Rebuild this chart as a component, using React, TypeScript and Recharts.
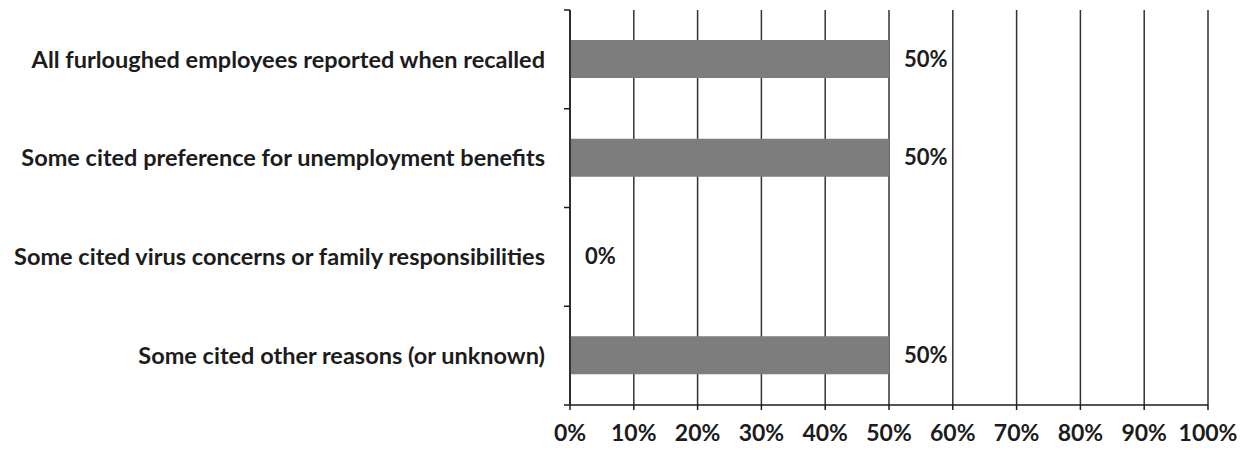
import { Bar, BarChart, CartesianGrid, LabelList, XAxis, YAxis } from "recharts";

const categories = [
  "All furloughed employees reported when recalled",
  "Some cited preference for unemployment benefits",
  "Some cited virus concerns or family responsibilities",
  "Some cited other reasons (or unknown)",
];
const shares = [50, 50, 0, 50];
const xTicks = [0, 10, 20, 30, 40, 50, 60, 70, 80, 90, 100];

const WIDTH = 1249;
const HEIGHT = 450;
const MARGIN = { top: 10, right: 41, bottom: 5, left: 0 };
const X_AXIS_HEIGHT = 40;
const BAND = (HEIGHT - MARGIN.top - MARGIN.bottom - X_AXIS_HEIGHT) / categories.length;
const FONT = "Lato, 'Open Sans', sans-serif";
const INK = "#1c1c1c";

const data = categories.map((name, i) => ({ name, share: shares[i] }));

// Excel puts the category tick marks on band edges, not centres
function CategoryTick(props: any) {
  const { x, y, payload, index } = props;
  const axisX = x + 8;
  return (
    <g>
      <line x1={axisX - 6} x2={axisX} y1={y - BAND / 2} y2={y - BAND / 2} stroke={INK} strokeWidth={1.5} />
      {index === categories.length - 1 && (
        <line x1={axisX - 6} x2={axisX} y1={y + BAND / 2} y2={y + BAND / 2} stroke={INK} strokeWidth={1.5} />
      )}
      <text x={axisX - 25} y={y} dy="0.35em" textAnchor="end" fill={INK} fontFamily={FONT} fontWeight={700} fontSize={23.5}>
        {payload.value}
      </text>
    </g>
  );
}

// zero-width bars still need their "0%" label
function ValueLabel(props: any) {
  const { x, y, width, height, value } = props;
  return (
    <text
      x={Number(x) + Number(width || 0) + 15}
      y={Number(y) + Number(height) / 2}
      dy="0.35em"
      fill={INK}
      fontFamily={FONT}
      fontWeight={700}
      fontSize={22}
    >
      {`${value}%`}
    </text>
  );
}

export default function App() {
  return (
    <div style={{ position: "absolute", left: 0, top: 0, background: "#fff" }}>
      <BarChart width={WIDTH} height={HEIGHT} data={data} layout="vertical" margin={MARGIN}>
        <CartesianGrid horizontal={false} vertical stroke="#333" strokeWidth={1.5} />
        <XAxis
          type="number"
          domain={[0, 100]}
          ticks={xTicks}
          interval={0}
          height={X_AXIS_HEIGHT}
          tickFormatter={(v) => `${v}%`}
          axisLine={{ stroke: INK, strokeWidth: 1.5 }}
          tickLine={{ stroke: INK, strokeWidth: 1.5 }}
          tickSize={5}
          tickMargin={15}
          tick={{ fill: INK, fontFamily: FONT, fontWeight: 700, fontSize: 23 }}
        />
        <YAxis
          type="category"
          dataKey="name"
          width={570}
          axisLine={{ stroke: INK, strokeWidth: 1.5 }}
          tickLine={false}
          interval={0}
          tick={<CategoryTick />}
        />
        <Bar dataKey="share" fill="#7d7d7d" barSize={38} minPointSize={0.01} isAnimationActive={false}>
          <LabelList dataKey="share" content={<ValueLabel />} />
        </Bar>
      </BarChart>
    </div>
  );
}
